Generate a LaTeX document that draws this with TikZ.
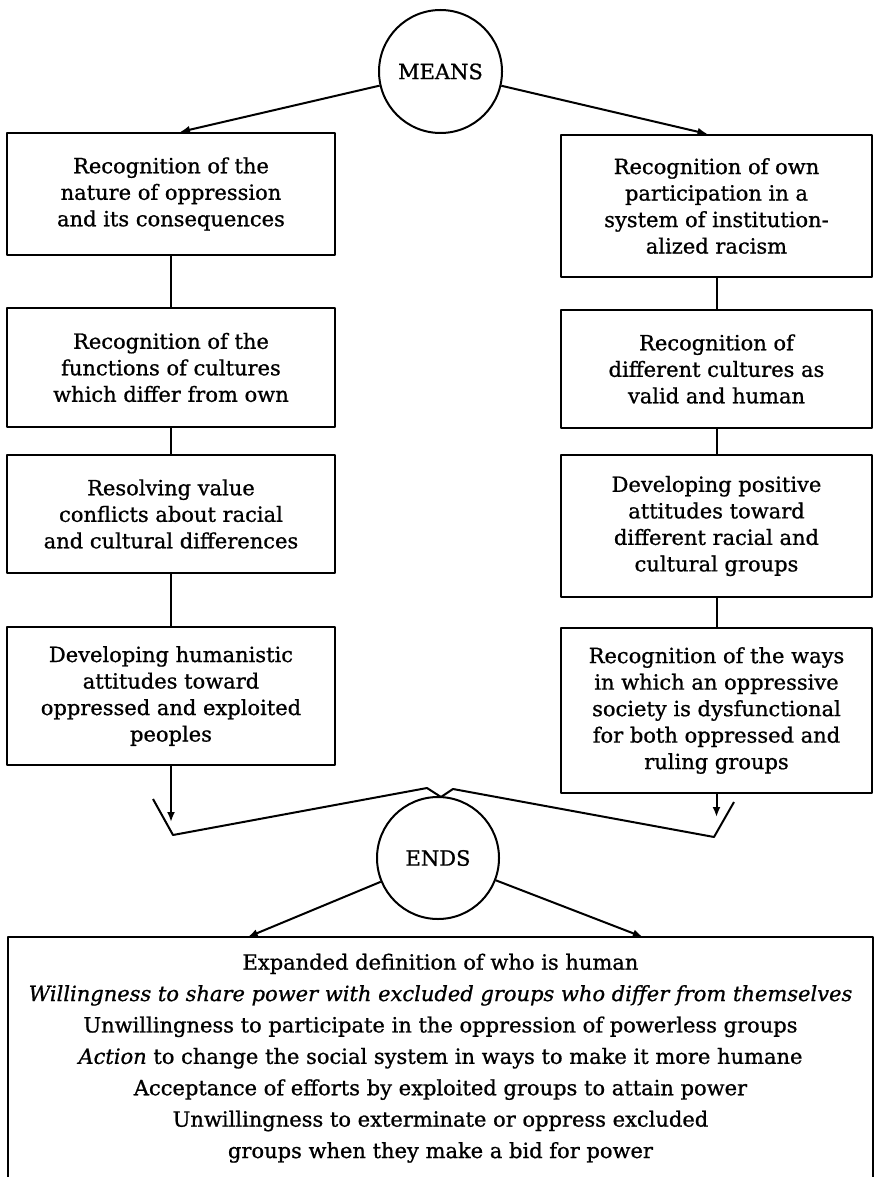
\documentclass[tikz,border=0pt]{standalone}
\usepackage{fontspec}
\setmainfont{DejaVu Serif}
\newfontfamily\heavyfont{DejaVu Serif}[FakeBold=0.9]
\usetikzlibrary{arrows.meta,calc}
\begin{document}
\begin{tikzpicture}[x=1pt,y=-1pt,
  ln/.style={line width=2pt, line join=round},
  box/.style={draw, ln, rectangle, inner sep=0pt, align=center,
    font=\heavyfont\fontsize{21}{26.5}\selectfont},
  lbox/.style={box, minimum width=328pt},
  rbox/.style={box, minimum width=311pt},
  oval/.style={draw, ln, circle, inner sep=0pt, minimum size=122pt,
    font=\heavyfont\fontsize{21}{25}\selectfont},
  arr/.style={ln, -{Latex[length=10pt,width=8pt]}},
  endtext/.style={align=center, inner sep=0pt, minimum width=865pt,
    minimum height=242pt, font=\heavyfont\fontsize{21}{31.4}\selectfont}
]
\useasboundingbox (0,0) rectangle (878,1177);
\fill[white] (0,0) rectangle (878,1177);

% MEANS
\node[oval, minimum size=123pt] (M) at (440.5,71.5) {MEANS};

% left column
\node[lbox, minimum height=122pt] (L1) at (171,194)
  {Recognition of the\\nature of oppression\\and its consequences};
\node[lbox, minimum height=119pt] (L2) at (171,367.5)
  {Recognition of the\\functions of cultures\\which differ from own};
\node[lbox, minimum height=118pt] (L3) at (171,514)
  {Resolving value\\conflicts about racial\\and cultural differences};
\node[lbox, minimum height=138pt] (L4) at (171,696)
  {Developing humanistic\\attitudes toward\\oppressed and exploited\\peoples};

% right column
\node[rbox, minimum height=142pt] (R1) at (716.5,206)
  {Recognition of own\\participation in a\\system of institution-\\alized racism};
\node[rbox, minimum height=118pt] (R2) at (716.5,369)
  {Recognition of\\different cultures as\\valid and human};
\node[rbox, minimum height=142pt] (R3) at (716.5,526)
  {Developing positive\\attitudes toward\\different racial and\\cultural groups};
\node[rbox, minimum height=165pt] (R4) at (716.5,710.5)
  {Recognition of the ways\\in which an oppressive\\society is dysfunctional\\for both oppressed and\\ruling groups};

% ENDS
\node[oval, minimum size=122pt] (E) at (438,858) {ENDS};

% bottom box (continues past the lower edge)
\node[endtext, anchor=north] (B) at (440.5,937)
  {Expanded definition of who is human\\
   \textit{Willingness to share power with excluded groups who differ from themselves}\\
   Unwillingness to participate in the oppression of powerless groups\\
   \textit{Action} to change the social system in ways to make it more humane\\
   Acceptance of efforts by exploited groups to attain power\\
   Unwillingness to exterminate or oppress excluded\\
   groups when they make a bid for power};
\draw[ln] (B.south west) -- (B.north west) -- (B.north east) -- (B.south east);

% connectors
\draw[arr] (M) -- ($(L1.north)+(9,0)$);
\draw[arr] (M) -- ($(R1.north)+(-9,0)$);
\draw[ln] (L1) -- (L2);
\draw[ln] (L2) -- (L3);
\draw[ln] (L3) -- (L4);
\draw[ln] (R1) -- (R2);
\draw[ln] (R2) -- (R3);
\draw[ln] (R3) -- (R4);

\coordinate (l4end) at (171,822);
\coordinate (r4end) at (716.5,817);
\draw[arr] (L4.south) -- (l4end);
\draw[arr] (R4.south) -- (r4end);

% bracket gathering both columns
\coordinate (v1) at (153,799);
\coordinate (v2) at (173,835);
\coordinate (v3) at (427,788);
\coordinate (v4) at (441,797);
\coordinate (v5) at (453,789);
\coordinate (v6) at (714,837);
\coordinate (v7) at (734,802);
\draw[ln] (v1) -- (v2) -- (v3) -- (v4) -- (v5) -- (v6) -- (v7);

\coordinate (b1) at ($(B.north west)+(240,0)$);
\coordinate (b2) at ($(B.north west)+(635,0)$);
\draw[arr] (E) -- (b1);
\draw[arr] (E) -- (b2);
\end{tikzpicture}
\end{document}
